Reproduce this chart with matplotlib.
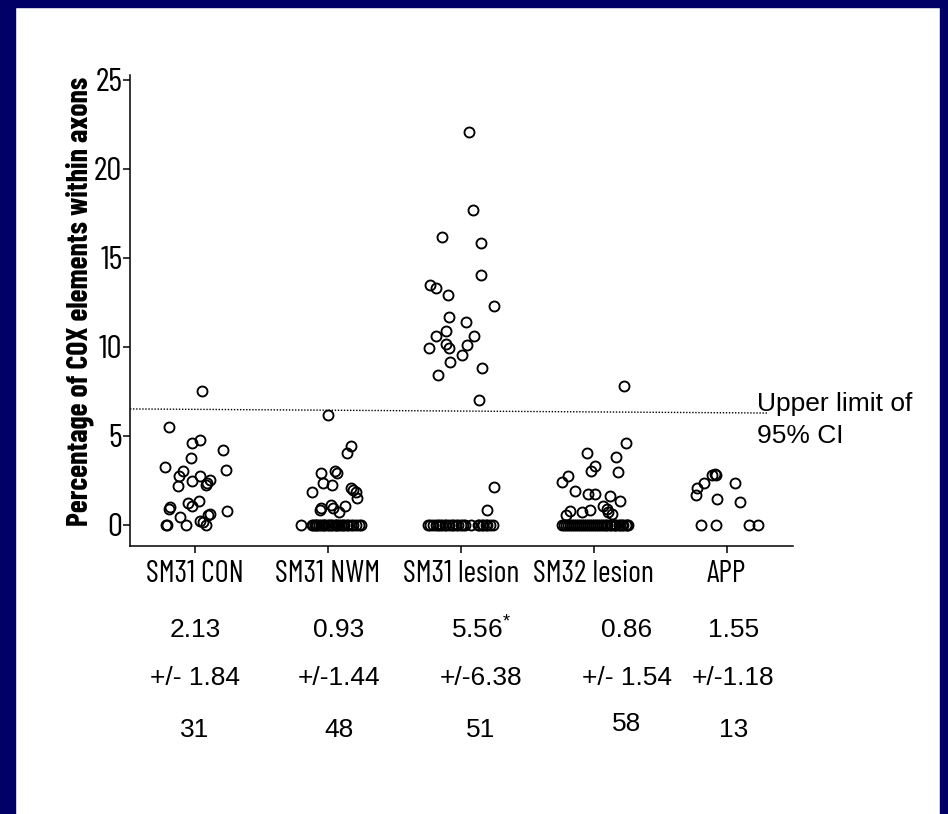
import matplotlib
matplotlib.use("Agg")
import matplotlib.pyplot as plt
import matplotlib.transforms as mtransforms
from matplotlib.patches import Rectangle

plt.rcParams.update({
    "font.family": ["Liberation Sans", "DejaVu Sans"],
    "mathtext.default": "regular",
    "axes.linewidth": 1.1,
})
NARROW = ["Barlow Condensed", "Liberation Sans", "DejaVu Sans"]

groups = ["SM31 CON", "SM31 NWM", "SM31 lesion", "SM32 lesion", "APP"]
means = ["2.13", "0.93", "5.56$^{*}$", "0.86", "1.55"]
sds = ["+/- 1.84", "+/-1.44", "+/-6.38", "+/- 1.54", "+/-1.18"]
ns = ["31", "48", "51", "58", "13"]

# % COX elements within axons per group, with the horizontal scatter
con_y = [7.55, 5.50, 4.62, 4.75, 4.24, 3.78, 3.27, 3.05, 2.75, 2.18, 2.45, 2.75, 2.35, 2.50,
         2.22, 3.10, 0.88, 1.03, 1.25, 1.05, 1.33, 0.80, 0.45, 0.25, 0.55, 0.0, 0.0, 0.0,
         0.0, 0.15, 0.60]
con_dx = [0.05, -0.20, -0.02, 0.04, 0.21, -0.03, -0.23, -0.09, -0.12, -0.13, -0.02, 0.04, 0.09,
          0.11, 0.08, 0.23, -0.20, -0.19, -0.05, -0.02, 0.03, 0.24, -0.11, 0.04, 0.10, 0.08,
          -0.07, -0.22, -0.21, 0.06, 0.11]

nwm_y = [6.18, 4.42, 4.05, 2.92, 3.01, 2.92, 2.35, 2.26, 1.83, 2.07, 1.94, 1.83, 1.51, 0.94,
         0.85, 1.13, 0.98, 0.75, 1.07] + [0.0] * 29
nwm_dx = [0.0, 0.17, 0.14, -0.05, 0.05, 0.07, -0.04, 0.03, -0.12, 0.17, 0.19, 0.21, 0.22, -0.05,
          -0.06, 0.02, 0.04, 0.08, 0.13,
          -0.20, -0.12, -0.11, -0.10, -0.09, -0.08, -0.07, -0.05, -0.04, -0.03, -0.02, 0.0,
          0.01, 0.02, 0.03, 0.05, 0.06, 0.07, 0.08, 0.10, 0.11, 0.12, 0.14, 0.15, 0.17, 0.19,
          0.21, 0.23, 0.25]

les1_y = [22.07, 17.70, 16.19, 15.82, 14.07, 12.33, 13.46, 13.31, 12.90, 11.71, 11.40, 10.92,
          10.64, 10.64, 9.94, 10.17, 9.93, 10.11, 9.55, 9.13, 8.44, 8.80, 7.00, 2.11, 0.85] + [0.0] * 26
les1_dx = [0.06, 0.09, -0.14, 0.15, 0.15, 0.25, -0.23, -0.19, -0.10, -0.09, 0.04, -0.11, -0.19,
           0.10, -0.24, -0.11, -0.09, 0.05, 0.01, -0.08, -0.17, 0.16, 0.14, 0.25, 0.20,
           -0.25, -0.23, -0.21, -0.19, -0.17, -0.16, -0.14, -0.12, -0.11, -0.09, -0.07, -0.06,
           -0.04, -0.02, 0.0, 0.02, 0.03, 0.08, 0.13, 0.14, 0.16, 0.17, 0.19, 0.20, 0.22, 0.24]

les2_y = [7.82, 4.61, 4.05, 3.80, 3.30, 3.01, 2.97, 2.73, 2.39, 1.92, 1.73, 1.73, 1.64, 1.32,
          0.79, 0.56, 0.75, 0.85, 1.07, 0.90, 0.75, 0.62] + [0.0] * 36
les2_dx = [0.23, 0.24, -0.05, 0.17, 0.01, -0.02, 0.18, -0.19, -0.24, -0.14, -0.04, 0.01, 0.12,
           0.20, -0.18, -0.21, -0.09, -0.03, 0.07, 0.10, 0.11, 0.14,
           -0.24, -0.22, -0.21, -0.19, -0.18, -0.16, -0.15, -0.13, -0.12, -0.10, -0.09, -0.07,
           -0.06, -0.04, -0.03, -0.01, 0.0, 0.02, 0.03, 0.05, 0.06, 0.08, 0.09, 0.10, 0.12,
           0.13, 0.15, 0.16, 0.17, 0.19, 0.20, 0.21, 0.22, 0.24, 0.25, 0.26]

app_y = [2.79, 2.88, 2.82, 2.35, 2.07, 1.69, 2.35, 1.47, 1.28, 0.0, 0.0, 0.0, 0.0]
app_dx = [-0.11, -0.09, -0.08, -0.17, -0.22, -0.23, 0.06, -0.07, 0.10, -0.19, -0.08, 0.17, 0.24]

values = [con_y, nwm_y, les1_y, les2_y, app_y]
jitter = [con_dx, nwm_dx, les1_dx, les2_dx, app_dx]

# hand-drawn upper 95% CI line (slightly sloped in the original)
ci_x = [-0.49, 4.31]
ci_y = [6.52, 6.29]

W, H = 948, 814
fig = plt.figure(figsize=(W / 100, H / 100), dpi=100)
fig.patch.set_facecolor("white")
navy = "#000066"
fig.patches.extend([
    Rectangle((0, 0), 15 / W, 1, transform=fig.transFigure, color=navy, zorder=0),
    Rectangle((0, 1 - 7 / H), 1, 7 / H, transform=fig.transFigure, color=navy, zorder=0),
    Rectangle((1 - 8 / W, 0), 8 / W, 1, transform=fig.transFigure, color=navy, zorder=0),
])

ax = fig.add_axes([130 / W, 1 - 546 / H, (793 - 130) / W, (546 - 75) / H])
for i, (ys, dx) in enumerate(zip(values, jitter)):
    ax.plot([i + d for d in dx], ys, ls="none", marker="o", ms=7.2, mfc="none",
            mec="black", mew=1.35, clip_on=False)
ax.plot(ci_x, ci_y, color="black", lw=1.0, ls=(0, (1, 1.2)), clip_on=False)

ax.set_xlim(-0.49, 4.5)
ax.set_ylim(-1.18, 25.28)
ax.set_yticks([0, 5, 10, 15, 20, 25])
ax.set_yticklabels(["0", "5", "10", "15", "20", "25"], fontfamily=NARROW, fontsize=24)
ax.set_xticks(range(len(groups)))
ax.set_xticklabels(groups, fontfamily=NARROW, fontsize=22)
ax.tick_params(axis="y", length=5, width=1.1, pad=0.5)
ax.tick_params(axis="x", length=5, width=1.1, pad=5)
for s in ("top", "right"):
    ax.spines[s].set_visible(False)

fig.text(80 / W, 1 - 301 / H, "Percentage of COX elements within axons", rotation=90,
         ha="center", va="center", fontsize=21.5, fontweight="bold", family=NARROW)

ax.text(4.23, 6.40, "Upper limit of", fontsize=19, ha="left", va="baseline", clip_on=False)
ax.text(4.23, 4.61, "95% CI", fontsize=19, ha="left", va="baseline", clip_on=False)

# summary rows under the axis: mean, SD, n
trans = mtransforms.blended_transform_factory(ax.transData, fig.transFigure)
shift = [0.0, 0.08, 0.15, 0.25, 0.05]
for i in range(len(groups)):
    ax.text(i + shift[i], 1 - 630 / H, means[i], transform=trans, ha="center", va="center", fontsize=19)
    ax.text(i + shift[i], 1 - 678 / H, sds[i], transform=trans, ha="center", va="center", fontsize=19)
    ny = 1 - (724 if ns[i] == "58" else 730) / H
    ax.text(i + shift[i], ny, ns[i], transform=trans, ha="center", va="center", fontsize=19)

fig.savefig("out.png", dpi=100)
